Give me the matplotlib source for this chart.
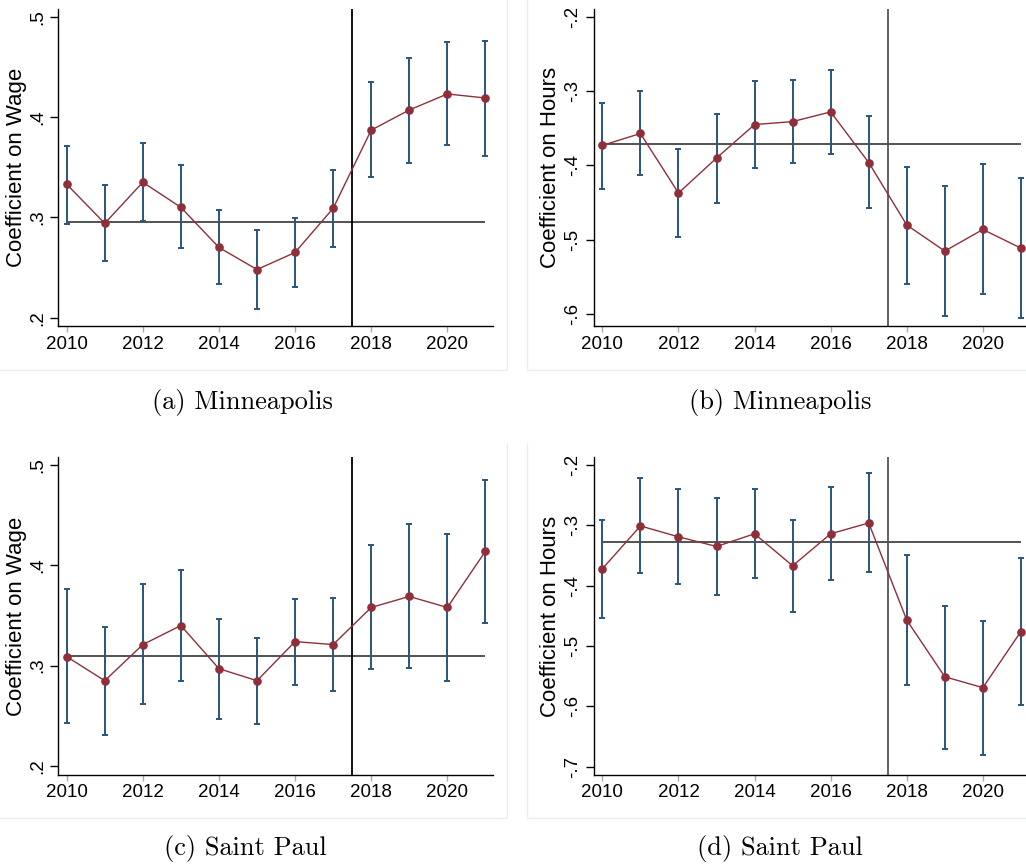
import matplotlib
matplotlib.use('Agg')
import matplotlib.pyplot as plt
from matplotlib.lines import Line2D

years = list(range(2010, 2022))

# (a) Minneapolis, wage
mpls_wage = [0.333, 0.294, 0.335, 0.310, 0.270, 0.248, 0.265, 0.309, 0.387, 0.407, 0.423, 0.419]
mpls_wage_hi = [0.371, 0.332, 0.374, 0.352, 0.307, 0.287, 0.299, 0.347, 0.435, 0.459, 0.475, 0.476]
mpls_wage_lo = [0.293, 0.256, 0.296, 0.269, 0.234, 0.209, 0.231, 0.270, 0.340, 0.354, 0.372, 0.361]
mpls_wage_mean = 0.2956

# (b) Minneapolis, hours
mpls_hours = [-0.373, -0.357, -0.437, -0.390, -0.345, -0.341, -0.328, -0.396, -0.480, -0.515, -0.486, -0.511]
mpls_hours_hi = [-0.316, -0.300, -0.378, -0.331, -0.287, -0.285, -0.272, -0.334, -0.402, -0.428, -0.398, -0.417]
mpls_hours_lo = [-0.431, -0.413, -0.496, -0.450, -0.403, -0.397, -0.385, -0.457, -0.559, -0.602, -0.573, -0.605]
mpls_hours_mean = -0.371

# (c) Saint Paul, wage
stp_wage = [0.309, 0.285, 0.321, 0.340, 0.297, 0.285, 0.324, 0.321, 0.358, 0.369, 0.358, 0.414]
stp_wage_hi = [0.376, 0.339, 0.381, 0.395, 0.347, 0.328, 0.366, 0.367, 0.420, 0.441, 0.431, 0.485]
stp_wage_lo = [0.243, 0.231, 0.262, 0.285, 0.247, 0.242, 0.281, 0.275, 0.297, 0.298, 0.285, 0.343]
stp_wage_mean = 0.310

# (d) Saint Paul, hours
stp_hours = [-0.372, -0.301, -0.319, -0.335, -0.314, -0.367, -0.314, -0.296, -0.457, -0.551, -0.569, -0.476]
stp_hours_hi = [-0.291, -0.222, -0.240, -0.254, -0.240, -0.291, -0.237, -0.214, -0.349, -0.433, -0.458, -0.354]
stp_hours_lo = [-0.453, -0.379, -0.397, -0.416, -0.387, -0.444, -0.391, -0.378, -0.565, -0.670, -0.681, -0.598]
stp_hours_mean = -0.327

wage_ticks = [0.2, 0.3, 0.4, 0.5]
wage_ticklabels = ['.2', '.3', '.4', '.5']
hours_ticks_b = [-0.6, -0.5, -0.4, -0.3, -0.2]
hours_ticklabels_b = ['-.6', '-.5', '-.4', '-.3', '-.2']
hours_ticks_d = [-0.7, -0.6, -0.5, -0.4, -0.3, -0.2]
hours_ticklabels_d = ['-.7', '-.6', '-.5', '-.4', '-.3', '-.2']
x_ticks = [2010, 2012, 2014, 2016, 2018, 2020]

RED = '#8e2f3a'
NAVY = '#2a5580'

W, H = 1026, 865
fig = plt.figure(figsize=(W / 100, H / 100), dpi=100, facecolor='white')


def px_axes(left, top, right, bottom):
    return fig.add_axes([left / W, 1 - bottom / H, (right - left) / W, (bottom - top) / H])


def panel(ax, y, hi, lo, mean, ylim, ticks, ticklabels, ylabel, vcol, label_x):
    ax.set_facecolor('white')
    for s in ('top', 'right'):
        ax.spines[s].set_visible(False)
    for s in ('left', 'bottom'):
        ax.spines[s].set_color('black')
        ax.spines[s].set_linewidth(1.0)
    ax.set_xlim(2009.78, 2021.2)
    ax.set_ylim(*ylim)
    ax.hlines(mean, 2010, 2021, color='#444444', lw=1.3, zorder=1)
    ax.axvline(2017.5, color=vcol, lw=1.3, zorder=1)
    ax.errorbar(years, y, yerr=[[a - b for a, b in zip(y, lo)], [b - a for a, b in zip(y, hi)]],
                fmt='none', ecolor=NAVY, elinewidth=1.4, capsize=2.2, capthick=1.4, zorder=2)
    ax.plot(years, y, color=RED, lw=1.0, marker='o', ms=5.2, mfc=RED, mec=RED, zorder=3)
    ax.set_yticks(ticks)
    ax.set_yticklabels(ticklabels, rotation=90, va='center', fontsize=13.5,
                       fontfamily='Liberation Sans')
    ax.set_xticks(x_ticks)
    ax.set_xticklabels([str(t) for t in x_ticks], fontsize=13.5, fontfamily='Liberation Sans')
    ax.tick_params(axis='y', length=6, width=1, color='black', pad=3)
    ax.tick_params(axis='x', length=4, width=1, color='#aaaaaa', pad=3)
    ax.set_ylabel(ylabel, fontsize=16, fontfamily='Liberation Sans', va='center')
    ax.yaxis.set_label_coords(label_x, 0.5)


ax_a = px_axes(58.3, 9, 493, 326)
panel(ax_a, mpls_wage, mpls_wage_hi, mpls_wage_lo, mpls_wage_mean, (0.1917, 0.5077),
      wage_ticks, wage_ticklabels, 'Coefficient on Wage', 'black', -0.097)

ax_b = px_axes(594, 9, 1028.5, 326)
panel(ax_b, mpls_hours, mpls_hours_hi, mpls_hours_lo, mpls_hours_mean, (-0.6157, -0.1897),
      hours_ticks_b, hours_ticklabels_b, 'Coefficient on Hours', '#555555', -0.099)

ax_c = px_axes(58.3, 457.3, 493, 774.7)
panel(ax_c, stp_wage, stp_wage_hi, stp_wage_lo, stp_wage_mean, (0.1913, 0.5077),
      wage_ticks, wage_ticklabels, 'Coefficient on Wage', 'black', -0.097)

ax_d = px_axes(594, 457.3, 1028.5, 774.7)
panel(ax_d, stp_hours, stp_hours_hi, stp_hours_lo, stp_hours_mean, (-0.7133, -0.1872),
      hours_ticks_d, hours_ticklabels_d, 'Coefficient on Hours', '#555555', -0.099)

# faint frames around the embedded graphs
frame = '#e8eeee'
for xs, ys in [((0, 507, 507), (370, 370, 0)),
               ((527, 527, 1026), (0, 370, 370)),
               ((507, 507, 0), (444, 818, 818)),
               ((527, 527, 1026), (444, 818, 818))]:
    fig.add_artist(Line2D([x / W for x in xs], [1 - y / H for y in ys],
                          color=frame, lw=1, transform=fig.transFigure))

captions = [('(a) Minneapolis', 242, 403), ('(b) Minneapolis', 780, 403),
            ('(c) Saint Paul', 245, 849), ('(d) Saint Paul', 780, 849)]
for txt, cx, cy in captions:
    fig.text(cx / W, 1 - cy / H, txt, ha='center', va='center', fontsize=19,
             fontfamily='cmr10')

fig.savefig('out.png', dpi=100, facecolor='white')
